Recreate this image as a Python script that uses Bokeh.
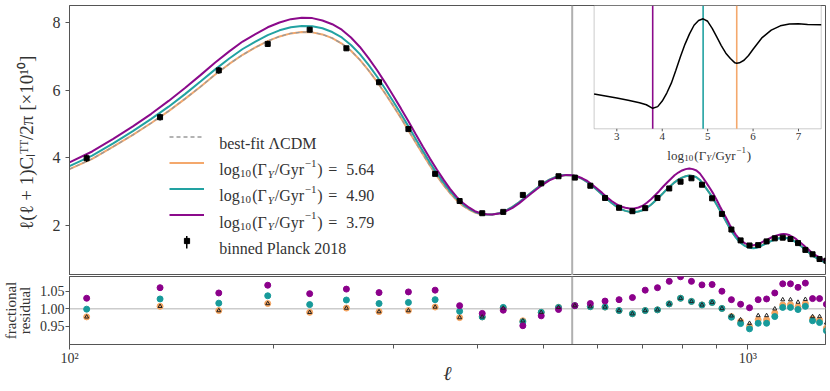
import math
from bokeh.plotting import figure
from bokeh.layouts import column
from bokeh.models import (Range1d, Span, Label, Legend, LegendItem, FixedTicker,
                          ColumnDataSource, BoxAnnotation, NumeralTickFormatter,
                          CustomJSTickFormatter, LinearScale)
from bokeh.core.properties import value
from bokeh.embed import file_html
from bokeh.resources import INLINE

# ---------------- data ----------------
ell_nodes = [100, 108, 116, 124, 132, 140, 148, 156, 164, 172, 180, 188, 196, 204, 212, 220,
             228, 236, 244, 252, 260, 268, 276, 284, 292, 300, 308, 316, 324, 332, 340, 348,
             356, 364, 372, 380, 388, 396, 404, 412,
             420, 430, 440, 450, 460, 470, 480, 490, 500, 510, 520, 530, 540, 550, 560, 570,
             580, 590, 600, 610, 620, 630, 640, 650, 660, 670, 680, 690, 700, 710, 720, 730,
             740, 750, 760, 770, 780, 790, 800, 810, 820, 830, 840, 850, 860, 870, 880, 890,
             900, 910, 920, 930, 940, 950, 960, 970, 980, 990, 1000, 1010, 1020, 1030, 1040,
             1050, 1060, 1070, 1080, 1090, 1100, 1110, 1120, 1130, 1140, 1150, 1160, 1170,
             1180, 1190, 1200, 1210, 1220, 1230, 1240, 1250, 1260, 1270, 1280, 1290, 1300, 1310]

curve_teal = [3.76, 4.07, 4.43, 4.79, 5.15, 5.51, 5.88, 6.25, 6.61, 6.93, 7.21, 7.43, 7.62, 7.76,
              7.85, 7.89, 7.88, 7.82, 7.71, 7.55, 7.33, 7.06, 6.74, 6.40, 6.04, 5.67, 5.30, 4.93,
              4.56, 4.20, 3.86, 3.55, 3.27, 3.02, 2.81, 2.64, 2.51, 2.41, 2.35, 2.33,
              2.33, 2.37, 2.45, 2.56, 2.69, 2.84, 2.99, 3.13, 3.26, 3.36, 3.43, 3.48, 3.50, 3.49,
              3.45, 3.38, 3.29, 3.18, 3.05, 2.92, 2.79, 2.67, 2.57, 2.49, 2.44, 2.41, 2.40, 2.42,
              2.46, 2.53, 2.62, 2.73, 2.84, 2.96, 3.08, 3.18, 3.28, 3.36, 3.42, 3.46, 3.48, 3.47,
              3.43, 3.35, 3.22, 3.08, 2.94, 2.79, 2.62, 2.45, 2.28, 2.11, 1.94, 1.79, 1.66, 1.55,
              1.47, 1.41, 1.37, 1.345, 1.34, 1.355, 1.38, 1.42, 1.46, 1.50, 1.54, 1.575, 1.60,
              1.625, 1.64, 1.645, 1.64, 1.62, 1.59, 1.55, 1.50, 1.44, 1.39, 1.33, 1.27, 1.21,
              1.15, 1.10, 1.06, 1.02, 0.98, 0.95, 0.93, 0.91]

curve_orange = [3.67, 3.97, 4.33, 4.68, 5.03, 5.38, 5.74, 6.10, 6.46, 6.77, 7.04, 7.26, 7.44, 7.58,
                7.67, 7.71, 7.70, 7.64, 7.53, 7.37, 7.16, 6.89, 6.58, 6.25, 5.90, 5.54, 5.18, 4.81,
                4.45, 4.10, 3.77, 3.47, 3.20, 2.96, 2.76, 2.59, 2.48, 2.39, 2.34, 2.33,
                2.33, 2.37, 2.45, 2.56, 2.69, 2.84, 2.99, 3.13, 3.26, 3.36, 3.43, 3.48, 3.50, 3.49,
                3.45, 3.38, 3.29, 3.18, 3.05, 2.92, 2.79, 2.67, 2.57, 2.49, 2.44, 2.41, 2.40, 2.42,
                2.46, 2.53, 2.62, 2.73, 2.84, 2.96, 3.08, 3.18, 3.28, 3.36, 3.42, 3.46, 3.48, 3.47,
                3.43, 3.35, 3.22, 3.08, 2.94, 2.79, 2.62, 2.45, 2.28, 2.11, 1.94, 1.80, 1.67, 1.56,
                1.48, 1.42, 1.38, 1.36, 1.35, 1.37, 1.39, 1.43, 1.47, 1.51, 1.55, 1.59, 1.61,
                1.64, 1.65, 1.66, 1.65, 1.63, 1.60, 1.56, 1.51, 1.45, 1.40, 1.34, 1.28, 1.22,
                1.16, 1.11, 1.07, 1.03, 0.99, 0.96, 0.94, 0.92]

curve_purple = [3.87, 4.19, 4.56, 4.93, 5.30, 5.68, 6.06, 6.44, 6.81, 7.14, 7.43, 7.65, 7.85, 7.99,
                8.09, 8.13, 8.12, 8.05, 7.94, 7.78, 7.55, 7.27, 6.94, 6.59, 6.22, 5.84, 5.46, 5.08,
                4.70, 4.33, 3.98, 3.66, 3.36, 3.09, 2.86, 2.68, 2.54, 2.43, 2.37, 2.34,
                2.33, 2.36, 2.43, 2.53, 2.66, 2.81, 2.96, 3.10, 3.23, 3.34, 3.41, 3.47, 3.50, 3.49,
                3.46, 3.40, 3.32, 3.21, 3.09, 2.97, 2.84, 2.73, 2.64, 2.57, 2.53, 2.51, 2.51, 2.54,
                2.59, 2.68, 2.78, 2.90, 3.02, 3.15, 3.27, 3.38, 3.49, 3.57, 3.63, 3.67, 3.69, 3.67,
                3.63, 3.54, 3.40, 3.25, 3.10, 2.94, 2.76, 2.57, 2.39, 2.22, 2.04, 1.88, 1.74, 1.63,
                1.55, 1.49, 1.45, 1.43, 1.43, 1.44, 1.47, 1.52, 1.56, 1.60, 1.64, 1.68, 1.71,
                1.73, 1.75, 1.76, 1.75, 1.73, 1.69, 1.65, 1.60, 1.53, 1.48, 1.42, 1.35, 1.29,
                1.23, 1.17, 1.13, 1.09, 1.04, 1.01, 0.99, 0.97]

bin_ell = [106, 136, 166, 196, 226, 256, 286, 316, 346, 376, 406, 436, 466, 496, 526, 556, 586,
           616, 646, 676, 706, 736, 766, 796, 826, 856, 886, 916, 946, 976, 1006, 1036, 1066,
           1096, 1126, 1156, 1186, 1216, 1246, 1276, 1306]
planck_dl = [3.99, 5.20, 6.58, 7.36, 7.78, 7.23, 6.23, 4.85, 3.53, 2.73, 2.37, 2.41, 2.91, 3.25,
             3.46, 3.42, 3.18, 2.82, 2.53, 2.43, 2.52, 2.82, 3.10, 3.30, 3.40, 3.21, 2.81, 2.35,
             1.89, 1.57, 1.42, 1.43, 1.54, 1.63, 1.65, 1.61, 1.49, 1.29, 1.16, 1.02, 0.97]
planck_err = [0.11, 0.10, 0.10, 0.09, 0.08, 0.07, 0.06, 0.05, 0.04, 0.04, 0.03, 0.03, 0.03, 0.03,
              0.03, 0.03, 0.03, 0.03, 0.03, 0.03, 0.03, 0.03, 0.03, 0.03, 0.03, 0.03, 0.03, 0.03,
              0.02, 0.02, 0.02, 0.02, 0.02, 0.02, 0.02, 0.02, 0.02, 0.02, 0.02, 0.02, 0.02]

res_purple = [1.030, 1.060, 1.045, 1.067, 1.043, 1.056, 1.046, 1.048, 1.053, 1.009, 0.987, 0.996,
              0.952, 0.980, 0.998, 1.009, 1.015, 1.022, 1.026, 1.032, 1.053, 1.060, 1.078, 1.091,
              1.078, 1.068, 1.069, 1.050, 1.026, 1.013, 1.003, 1.026, 1.028, 1.045, 1.071, 1.071,
              1.061, 1.073, 1.029, 1.029, 1.013]
res_teal = [0.999, 1.028, 1.016, 1.037, 1.012, 1.025, 1.015, 1.018, 1.026, 0.993, 0.977, 1.004,
            0.963, 0.990, 1.004, 1.009, 1.006, 1.005, 0.995, 0.986, 0.995, 0.997, 1.014, 1.030,
            1.021, 1.011, 1.018, 1.001, 0.976, 0.958, 0.943, 0.959, 0.959, 0.978, 1.004, 1.004,
            0.998, 1.007, 0.966, 0.961, 0.938]
res_orange = [0.977, 1.007, 0.995, 1.015, 0.990, 1.002, 0.992, 0.995, 1.005, 0.975, 0.977, 1.002,
              0.966, 0.990, 1.004, 1.009, 1.006, 1.005, 0.995, 0.986, 0.995, 0.997, 1.014, 1.030,
              1.021, 1.011, 1.018, 1.001, 0.978, 0.964, 0.950, 0.969, 0.969, 0.988, 1.011, 1.012,
              1.006, 1.015, 0.972, 0.968, 0.945]
res_lcdm = [0.977, 1.007, 0.995, 1.015, 0.990, 1.002, 0.992, 0.995, 1.005, 0.975, 0.977, 1.002,
            0.966, 0.990, 1.004, 1.009, 1.006, 1.005, 0.995, 0.986, 0.995, 0.997, 1.014, 1.030,
            1.021, 1.011, 1.018, 1.001, 0.980, 0.969, 0.959, 0.981, 0.981, 1.000, 1.026, 1.026,
            1.019, 1.027, 0.978, 0.978, 0.960]

inset_x = [2.5, 2.75, 3.0, 3.25, 3.5, 3.65, 3.79, 3.9, 4.0, 4.1, 4.2, 4.3, 4.4, 4.5, 4.6, 4.7,
           4.8, 4.9, 5.0, 5.1, 5.2, 5.3, 5.4, 5.5, 5.6, 5.64, 5.7, 5.8, 5.9, 6.0, 6.2, 6.4, 6.6,
           6.8, 7.0, 7.2, 7.5]
inset_y = [0.282, 0.266, 0.249, 0.232, 0.212, 0.195, 0.166, 0.180, 0.225, 0.290, 0.370, 0.475,
           0.585, 0.685, 0.770, 0.840, 0.878, 0.892, 0.872, 0.815, 0.745, 0.675, 0.613, 0.570,
           0.535, 0.531, 0.535, 0.556, 0.595, 0.645, 0.740, 0.800, 0.835, 0.850, 0.852, 0.845,
           0.843]

gamma_labels = ["5.64", "4.90", "3.79"]
gamma_values = [5.64, 4.90, 3.79]
vline_ell = 551
main_yticks = [2, 4, 6, 8]
res_yticks = [0.95, 1.00, 1.05]
x_major = [100, 1000]
x_minor = [200, 300, 400, 500, 600, 700, 800, 900]
inset_xticks = [3, 4, 5, 6, 7]
inset_xtick_labels = ["3", "4", "5", "6", "7"]

# ---------------- style ----------------
FONT = "Liberation Serif"
TXT = "#333333"
FRAME = "#555555"
PURPLE = "#8b0a8b"
TEAL = "#22a2a2"
ORANGE = "#f4a86c"
GREY = "#9a9a9a"
DOT_PURPLE = "#8b008b"
DOT_TEAL = "#179a9a"
DOT_ORANGE = "#f4a460"

# layout constants (pixels)
W = 828
MAIN_H = 275
RES_H = 115
BL = 67            # left border -> frame left
BR = 3
FRAME_W = W - BL - BR
MAIN_TOP = 5
MAIN_FRAME_H = MAIN_H - MAIN_TOP
INSET_LEFT_PX = 526.0   # inset frame left, measured from main frame left
INSET_W_PX = 227.7
INSET_H_PX = 123.3      # inset frame height, from main frame top
LEG_UP = 5              # legend vertical offset

xr = Range1d(100, 1302)

# ---------------- main panel ----------------
p = figure(width=W, height=MAIN_H, x_axis_type="log", x_range=xr,
           y_range=Range1d(0.535, 8.492), output_backend="svg", toolbar_location=None,
           min_border_left=BL, min_border_right=BR, min_border_top=MAIN_TOP,
           min_border_bottom=0)
p.xaxis.visible = False
p.grid.visible = False
p.outline_line_color = FRAME
p.outline_line_width = 1

yax = p.yaxis[0]
yax.ticker = FixedTicker(ticks=main_yticks)
yax.major_label_text_font = FONT
yax.major_label_text_font_size = "16px"
yax.major_label_text_color = TXT
yax.major_tick_out = 4
yax.major_tick_in = 0
yax.minor_tick_out = 0
yax.minor_tick_in = 0
yax.major_label_standoff = 5
yax.axis_line_color = FRAME
yax.major_tick_line_color = FRAME
yax.axis_label = "ℓ(ℓ + 1)Cₗᵀᵀ/2π  [×10¹⁰]"
yax.axis_label_text_font = FONT
yax.axis_label_text_font_size = "19px"
yax.axis_label_text_font_style = "normal"
yax.axis_label_text_color = TXT
yax.axis_label_standoff = 13

p.add_layout(Span(location=vline_ell, dimension="height", line_color="#b0b0b0",
                  line_width=2, level="underlay"))

r_orange = p.line(ell_nodes, curve_orange, line_color=ORANGE, line_width=2)
r_lcdm = p.line(ell_nodes, curve_orange, line_color=GREY, line_width=1.3, line_dash="4 3")
r_teal = p.line(ell_nodes, curve_teal, line_color=TEAL, line_width=2)
r_purple = p.line(ell_nodes, curve_purple, line_color=PURPLE, line_width=2)

src = ColumnDataSource(dict(
    ell=bin_ell, dl=planck_dl,
    lower=[d - e for d, e in zip(planck_dl, planck_err)],
    upper=[d + e for d, e in zip(planck_dl, planck_err)]))
p.segment(x0="ell", y0="lower", x1="ell", y1="upper", source=src, line_color="black",
          line_width=1.5)
r_data = p.scatter("ell", "dl", source=src, marker="square", size=5, color="black")

legend = Legend(items=[
    LegendItem(label=" ", renderers=[r_lcdm]),
    LegendItem(label=" ", renderers=[r_orange]),
    LegendItem(label=" ", renderers=[r_teal]),
    LegendItem(label=" ", renderers=[r_purple]),
    LegendItem(label=" ", renderers=[r_data]),
], location=(99.7, 23 + LEG_UP), orientation="vertical", glyph_width=35, glyph_height=13,
    label_height=13, label_width=0, spacing=13, padding=0, margin=0, label_standoff=0,
    border_line_alpha=0, background_fill_alpha=0, label_text_font_size="8px")
p.add_layout(legend)

p.add_layout(BoxAnnotation(left=116.5, right=118.0, top=34.5 + LEG_UP, bottom=22.1 + LEG_UP,
                           left_units="screen", right_units="screen",
                           top_units="screen", bottom_units="screen",
                           fill_color="black", fill_alpha=1, line_alpha=0))


def add_text(fig, txt, x, y, size, style="normal", align="left", baseline="alphabetic"):
    fig.add_layout(Label(x=x, y=y, x_units="screen", y_units="screen", text=txt,
                         text_font=FONT, text_font_size=f"{size}px", text_font_style=style,
                         text_color=TXT, text_align=align, text_baseline=baseline))


LX = 149.7
row_base = [127.3 + LEG_UP, 100.7 + LEG_UP, 74.7 + LEG_UP, 48.3 + LEG_UP, 22.3 + LEG_UP]
add_text(p, "best-fit ΛCDM", LX, row_base[0], 16)
for val, yb in zip(gamma_labels, row_base[1:4]):
    pieces = [("log", 0, 16, 0, "normal"), ("10", 20.8, 11, -4, "normal"),
              ("(Γ", 33, 16, 0, "normal"), ("Y", 48.5, 11, -4, "italic"),
              ("/Gyr", 55.5, 16, 0, "normal"), ("−1", 85.5, 11, 6.5, "normal"),
              (")", 98, 16, 0, "normal"), ("=", 109, 16, 0, "normal"),
              (val, 127, 16, 0, "normal")]
    for t, dx, s, dy, st in pieces:
        add_text(p, t, LX + dx, yb + dy, s, st)
add_text(p, "binned Planck 2018", LX, row_base[4], 16)

# ---------------- inset (drawn in the main frame through its own linear ranges) ----------------
ux = INSET_W_PX / 5.0
uy = INSET_H_PX / 1.0
p.extra_x_ranges = {"inset": Range1d(2.5 - INSET_LEFT_PX / ux,
                                     7.5 + (FRAME_W - INSET_LEFT_PX - INSET_W_PX) / ux)}
p.extra_x_scales = {"inset": LinearScale()}
p.extra_y_ranges = {"inset": Range1d(1.0 - MAIN_FRAME_H / uy, 1.0)}
p.extra_y_scales = {"inset": LinearScale()}

p.add_layout(BoxAnnotation(left=2.5, right=7.5, bottom=0.0, top=1.0,
                           x_range_name="inset", y_range_name="inset",
                           fill_color="white", fill_alpha=1.0, line_color=FRAME,
                           line_width=1, level="underlay"))
p.segment(x0=gamma_values, y0=[0.0] * 3, x1=gamma_values, y1=[1.0] * 3,
          line_color=[ORANGE, TEAL, PURPLE], line_width=1.6,
          x_range_name="inset", y_range_name="inset")
p.line(inset_x, inset_y, line_color="black", line_width=1.5,
       x_range_name="inset", y_range_name="inset")
p.segment(x0=inset_xticks, y0=[0.0] * 5, x1=inset_xticks, y1=[-2.5 / uy] * 5,
          line_color=FRAME, line_width=1, x_range_name="inset", y_range_name="inset")
p.text(x=inset_xticks, y=[-4.5 / uy] * 5, text=inset_xtick_labels,
       text_font=value(FONT), text_font_size="11px", text_color=TXT,
       text_align="center", text_baseline="top",
       x_range_name="inset", y_range_name="inset")

IX0 = INSET_LEFT_PX + INSET_W_PX / 2 - 42
IY = MAIN_FRAME_H - (154.5 - MAIN_TOP)
for t, dx, s, dy, st in [("log", 0, 13, 0, "normal"), ("10", 16.8, 9, -3, "normal"),
                         ("(Γ", 27, 13, 0, "normal"), ("Y", 39, 9, -3, "italic"),
                         ("/Gyr", 44.5, 13, 0, "normal"), ("−1", 69, 9, 5, "normal"),
                         (")", 79.5, 13, 0, "normal")]:
    add_text(p, t, IX0 + dx, IY + dy, s, st)

# ---------------- residual panel ----------------
res = figure(width=W, height=RES_H, x_axis_type="log", x_range=xr,
             y_range=Range1d(0.8986, 1.0918), output_backend="svg", toolbar_location=None,
             min_border_left=BL, min_border_right=BR, min_border_top=1, min_border_bottom=46)
res.grid.visible = False
res.outline_line_color = FRAME
res.outline_line_width = 1

rx = res.xaxis[0]
rx.ticker = FixedTicker(ticks=x_major, minor_ticks=x_minor)
rx.formatter = CustomJSTickFormatter(code="return tick < 300 ? '10²' : '10³';")
rx.major_label_text_font = FONT
rx.major_label_text_font_size = "14px"
rx.major_label_text_color = TXT
rx.major_tick_out = 5
rx.major_tick_in = 0
rx.minor_tick_out = 4
rx.minor_tick_in = 0
rx.major_label_standoff = 1
rx.axis_line_color = FRAME
rx.major_tick_line_color = FRAME
rx.minor_tick_line_color = FRAME
rx.axis_label = "ℓ"
rx.axis_label_text_font = FONT
rx.axis_label_text_font_size = "20px"
rx.axis_label_text_font_style = "italic"
rx.axis_label_text_color = TXT
rx.axis_label_standoff = -7

ry = res.yaxis[0]
ry.ticker = FixedTicker(ticks=res_yticks)
ry.formatter = NumeralTickFormatter(format="0.00")
ry.major_label_text_font = FONT
ry.major_label_text_font_size = "14px"
ry.major_label_text_color = TXT
ry.major_tick_out = 4
ry.major_tick_in = 0
ry.minor_tick_out = 0
ry.minor_tick_in = 0
ry.major_label_standoff = 1
ry.axis_line_color = FRAME
ry.major_tick_line_color = FRAME
ry.axis_label = "fractional\nresidual"
ry.axis_label_text_font = FONT
ry.axis_label_text_font_size = "15px"
ry.axis_label_text_font_style = "normal"
ry.axis_label_text_color = TXT
ry.axis_label_text_line_height = 0.85
ry.axis_label_standoff = 4

res.add_layout(Span(location=1.0, dimension="width", line_color="#cccccc", line_width=1.5,
                    level="underlay"))
res.add_layout(Span(location=vline_ell, dimension="height", line_color="#b0b0b0",
                    line_width=2, level="underlay"))

res.scatter(bin_ell, res_orange, size=6, color=DOT_ORANGE)
res.scatter(bin_ell, res_teal, size=6, color=DOT_TEAL)
res.scatter(bin_ell, res_purple, size=6, color=DOT_PURPLE)
res.scatter(bin_ell, res_lcdm, marker="triangle", size=4, line_color="#222222",
            line_width=1, fill_alpha=0)

layout = column(p, res, spacing=0)

open("out.html", "w").write(file_html(layout, INLINE))
